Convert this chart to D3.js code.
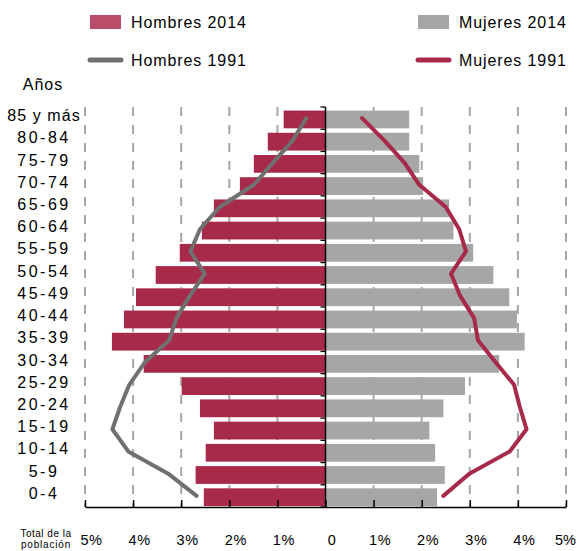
<!DOCTYPE html>
<html>
<head>
<meta charset="utf-8">
<script src="https://cdn.jsdelivr.net/npm/d3@7"></script>
<style>
  html, body { margin: 0; padding: 0; background: #fff; }
  svg { display: block; font-family: 'Liberation Sans', Arial, sans-serif; }
</style>
</head>
<body>
<div id="chart"></div>
<script>
/* pirámide de población — 2014 bars vs 1991 lines */

const AGES = [
  '85 y más', '80-84', '75-79', '70-74', '65-69', '60-64', '55-59', '50-54', '45-49',
  '40-44', '35-39', '30-34', '25-29', '20-24', '15-19', '10-14', '5-9', '0-4',
];

// % of total population, same order as AGES
const HOMBRES_2014 = [0.87, 1.20, 1.49, 1.78, 2.32, 2.57, 3.03, 3.53, 3.94,
  4.19, 4.44, 3.78, 2.99, 2.61, 2.32, 2.49, 2.70, 2.53];
const MUJERES_2014 = [1.74, 1.74, 1.95, 2.03, 2.57, 2.66, 3.07, 3.49, 3.82,
  3.98, 4.14, 3.61, 2.90, 2.45, 2.16, 2.28, 2.48, 2.32];
const HOMBRES_1991 = [0.40, 0.68, 1.09, 1.49, 2.20, 2.61, 2.81, 2.51, 2.82,
  3.10, 3.25, 3.76, 4.08, 4.27, 4.43, 4.10, 3.27, 2.68];
const MUJERES_1991 = [0.76, 1.22, 1.64, 1.95, 2.50, 2.78, 2.92, 2.61, 2.80,
  3.09, 3.17, 3.54, 3.92, 4.04, 4.18, 3.83, 2.99, 2.45];

const X_TICKS = [-5, -4, -3, -2, -1, 0, 1, 2, 3, 4, 5];

const COLORS = {
  hombres: '#a82a4a',
  hombresSwatch: '#bb4d6b',
  mujeres: '#a6a6a6',
  hombres91: '#707070',
  mujeres91: '#a82a4a',
  grid: '#a6a6a6',
};

const W = 580, H = 551;
const PLOT = { left: 85, right: 566, top: 107, bottom: 507 };

const svg = d3.select('#chart')
  .append('svg')
  .attr('width', W)
  .attr('height', H);

const x = d3.scaleLinear()
  .domain([-5, 5])
  .range([PLOT.left, PLOT.right]);

// band scale for bars, and a padding-free one for boundaries / line vertices
const y = d3.scaleBand()
  .domain(AGES)
  .range([PLOT.top, PLOT.bottom])
  .paddingInner(0.2)
  .paddingOuter(0.1)
  .align(0.8);

const yb = d3.scaleBand()
  .domain(AGES)
  .range([PLOT.top, PLOT.bottom]);

const rows = AGES.map((age, i) => ({
  age,
  h14: HOMBRES_2014[i],
  m14: MUJERES_2014[i],
  h91: HOMBRES_1991[i],
  m91: MUJERES_1991[i],
}));

// Dashed gridlines
svg.append('g')
  .selectAll('line')
  .data(X_TICKS.filter(d => d !== 0))
  .join('line')
  .attr('x1', d => x(d)).attr('x2', d => x(d))
  .attr('y1', PLOT.top).attr('y2', PLOT.bottom)
  .attr('stroke', COLORS.grid)
  .attr('stroke-width', 2)
  .attr('stroke-dasharray', '9,9');

// Bars
svg.append('g')
  .selectAll('rect')
  .data(rows)
  .join('rect')
  .attr('x', d => x(-d.h14))
  .attr('y', d => y(d.age))
  .attr('width', d => x(0) - x(-d.h14))
  .attr('height', y.bandwidth())
  .attr('fill', COLORS.hombres);

svg.append('g')
  .selectAll('rect')
  .data(rows)
  .join('rect')
  .attr('x', x(0))
  .attr('y', d => y(d.age))
  .attr('width', d => x(d.m14) - x(0))
  .attr('height', y.bandwidth())
  .attr('fill', COLORS.mujeres);

// 1991 lines
const cy = d => yb(d.age) + yb.bandwidth() / 2;

svg.append('path')
  .datum(rows)
  .attr('fill', 'none')
  .attr('stroke', COLORS.hombres91)
  .attr('stroke-width', 4)
  .attr('stroke-linejoin', 'round')
  .attr('stroke-linecap', 'round')
  .attr('d', d3.line().x(d => x(-d.h91)).y(cy));

svg.append('path')
  .datum(rows)
  .attr('fill', 'none')
  .attr('stroke', COLORS.mujeres91)
  .attr('stroke-width', 4)
  .attr('stroke-linejoin', 'round')
  .attr('stroke-linecap', 'round')
  .attr('d', d3.line().x(d => x(d.m91)).y(cy));

// Center axis with ticks on the band boundaries
const bounds = AGES.map(a => yb(a)).concat([PLOT.bottom]);
svg.append('line')
  .attr('x1', x(0)).attr('x2', x(0))
  .attr('y1', PLOT.top).attr('y2', PLOT.bottom)
  .attr('stroke', '#000')
  .attr('stroke-width', 1.5);
svg.append('g')
  .selectAll('line')
  .data(bounds)
  .join('line')
  .attr('x1', x(0) - 5).attr('x2', x(0))
  .attr('y1', d => d).attr('y2', d => d)
  .attr('stroke', '#000')
  .attr('stroke-width', 1.3);

// Bottom axis, ticks pointing up
const xAxis = svg.append('g')
  .attr('transform', `translate(0,${PLOT.bottom})`)
  .call(d3.axisBottom(x).tickValues(X_TICKS).tickSizeInner(-7).tickSizeOuter(0)
    .tickFormat(d => d === 0 ? '0' : `${Math.abs(d)}%`))
  .call(ax => ax.select('.domain').attr('stroke-width', 1.5))
  .call(ax => ax.selectAll('.tick line').attr('stroke-width', 1.5));

xAxis.selectAll('.tick text')
  .attr('y', 38)
  .attr('dy', null)
  .attr('dx', d => d === 5 ? -1 : 6)
  .attr('font-size', 14.5)
  .attr('letter-spacing', d => d === 5 ? 0 : 0.6)
  .attr('font-family', "'Liberation Sans', Arial, sans-serif")
  .attr('fill', '#000');

svg.append('text')
  .attr('x', 46).attr('y', 537)
  .attr('text-anchor', 'middle')
  .attr('font-size', 10)
  .attr('letter-spacing', 0.5)
  .text('Total de la');
svg.append('text')
  .attr('x', 46).attr('y', 548)
  .attr('text-anchor', 'middle')
  .attr('font-size', 10)
  .attr('letter-spacing', 0.8)
  .text('población');

// Age labels
svg.append('g')
  .selectAll('text')
  .data(AGES)
  .join('text')
  .attr('x', 44)
  .attr('y', d => yb(d) + yb.bandwidth() / 2 + 3)
  .attr('text-anchor', 'middle')
  .attr('font-size', 16)
  .attr('letter-spacing', d => d.includes('-') ? 2.5 : 1.1)
  .text(d => d);

svg.append('text')
  .attr('x', 43).attr('y', 90)
  .attr('text-anchor', 'middle')
  .attr('font-size', 16)
  .attr('letter-spacing', 1)
  .text('Años');

// Legend
const legend = [
  { label: 'Hombres 2014', type: 'rect', color: COLORS.hombresSwatch, lx: 90, ly: 22 },
  { label: 'Mujeres 2014', type: 'rect', color: COLORS.mujeres, lx: 418, ly: 22 },
  { label: 'Hombres 1991', type: 'line', color: COLORS.hombres91, lx: 90, ly: 60 },
  { label: 'Mujeres 1991', type: 'line', color: COLORS.mujeres91, lx: 418, ly: 60 },
];
legend.forEach(item => {
  if (item.type === 'rect') {
    svg.append('rect')
      .attr('x', item.lx).attr('y', item.ly - 7)
      .attr('width', 31).attr('height', 14)
      .attr('fill', item.color);
  } else {
    svg.append('line')
      .attr('x1', item.lx).attr('x2', item.lx + 31)
      .attr('y1', item.ly).attr('y2', item.ly)
      .attr('stroke', item.color)
      .attr('stroke-width', 5)
      .attr('stroke-linecap', 'round');
  }
  svg.append('text')
    .attr('x', item.lx + 41).attr('y', item.ly + 6)
    .attr('font-size', 16)
    .attr('letter-spacing', 0.9)
    .text(item.label);
});
</script>
</body>
</html>
